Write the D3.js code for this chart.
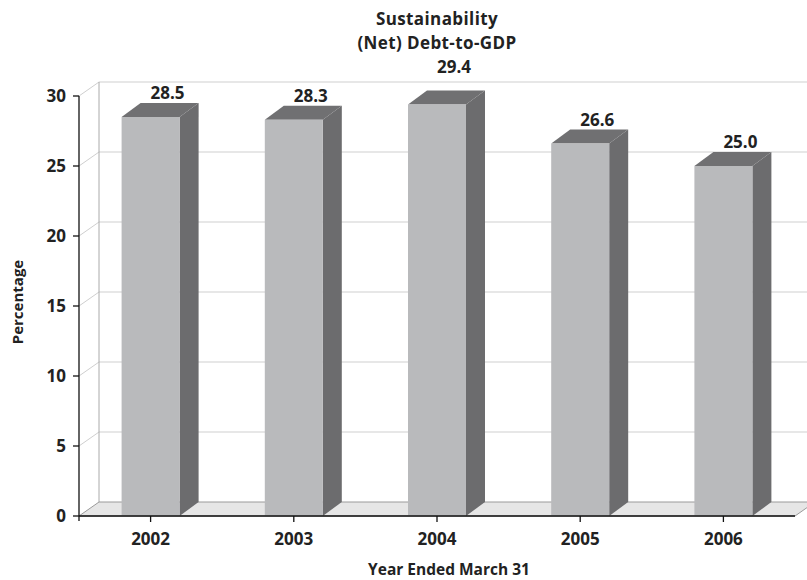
<!DOCTYPE html>
<html>
<head>
<meta charset="utf-8">
<script src="https://cdn.jsdelivr.net/npm/d3@7/dist/d3.min.js"></script>
<style>
  html, body { margin: 0; padding: 0; background: #ffffff; }
  svg text { font-family: "Open Sans", "DejaVu Sans", sans-serif; font-weight: 700; fill: #222222; }
</style>
</head>
<body>
<svg id="chart" width="807" height="580"></svg>
<script>
// Net debt as a share of GDP, fiscal years ended March 31
const years = ["2002", "2003", "2004", "2005", "2006"];
const debtToGdp = [28.5, 28.3, 29.4, 26.6, 25.0];
const yTicks = [0, 5, 10, 15, 20, 25, 30];
const titleLines = ["Sustainability", "(Net) Debt-to-GDP"];
const xTitle = "Year Ended March 31";
const yTitle = "Percentage";

const svg = d3.select("#chart");

// front plane of the 3-D box, plus the depth offset of the back wall
const front = { left: 79, right: 795, top: 96, bottom: 516 };
const wallDx = 20, wallDy = -14;
const barDx = 19, barDy = -14;

const x = d3.scaleBand()
  .domain(years)
  .range([front.left, front.right])
  .paddingInner(0.595)
  .paddingOuter(0.2975);

const y = d3.scaleLinear()
  .domain([0, 30])
  .range([front.bottom, front.top]);

const gridColor = "#cfcfcf";

// back wall gridlines and the left wall's receding lines
const grid = svg.append("g");
yTicks.filter(t => t > 0).forEach(t => {
  grid.append("line")
    .attr("x1", front.left + wallDx).attr("x2", front.right + wallDx + 20)
    .attr("y1", y(t) + wallDy).attr("y2", y(t) + wallDy)
    .attr("stroke", gridColor).attr("stroke-width", 1);
  grid.append("line")
    .attr("x1", front.left).attr("y1", y(t))
    .attr("x2", front.left + wallDx).attr("y2", y(t) + wallDy)
    .attr("stroke", gridColor).attr("stroke-width", 1);
});
// corner where the back wall meets the left wall
grid.append("line")
  .attr("x1", front.left + wallDx).attr("x2", front.left + wallDx)
  .attr("y1", y(30) + wallDy).attr("y2", y(0) + wallDy)
  .attr("stroke", "#aaaaaa").attr("stroke-width", 1);

// floor
const floorPts = [
  [front.left, y(0)],
  [front.left + wallDx, y(0) + wallDy],
  [front.right + wallDx, y(0) + wallDy],
  [front.right, y(0)]
];
svg.append("path")
  .attr("d", d3.line()(floorPts) + "Z")
  .attr("fill", "#e6e6e6")
  .attr("stroke", "#9a9a9a")
  .attr("stroke-width", 1);

// bars: side, top, then front face
const bw = x.bandwidth();
const bars = svg.append("g").selectAll("g")
  .data(years.map((yr, i) => ({ yr, v: debtToGdp[i] })))
  .join("g");

bars.append("path")
  .attr("d", d => {
    const x1 = x(d.yr) + bw, yt = y(d.v), yb = y(0);
    return d3.line()([[x1, yt], [x1 + barDx, yt + barDy], [x1 + barDx, yb + barDy], [x1, yb]]) + "Z";
  })
  .attr("fill", "#6c6c6e");

bars.append("path")
  .attr("d", d => {
    const x0 = x(d.yr), yt = y(d.v);
    return d3.line()([[x0, yt], [x0 + barDx, yt + barDy], [x0 + bw + barDx, yt + barDy], [x0 + bw, yt]]) + "Z";
  })
  .attr("fill", "#707072");

bars.append("rect")
  .attr("x", d => x(d.yr))
  .attr("y", d => y(d.v))
  .attr("width", bw)
  .attr("height", d => y(0) - y(d.v))
  .attr("fill", "#b9babc");

// value labels above each bar; a label that would cross the top edge
// of the back wall is lifted clear above it
const wallTop = y(30) + wallDy;
const labelSize = 17, labelCap = 12;
bars.append("text")
  .attr("x", d => x(d.yr) + bw / 2 + 17)
  .attr("y", d => {
    const base = y(d.v) + barDy - 4;
    return (base - labelCap < wallTop + 2) ? wallTop - 9 : base;
  })
  .attr("text-anchor", "middle")
  .attr("font-size", labelSize)
  .text(d => d.v.toFixed(1));

// y axis
const yAxis = svg.append("g");
yAxis.append("line")
  .attr("x1", front.left).attr("x2", front.left)
  .attr("y1", y(30)).attr("y2", y(0) + 5)
  .attr("stroke", "#111").attr("stroke-width", 1.3);
yTicks.forEach(t => {
  yAxis.append("line")
    .attr("x1", front.left - 6).attr("x2", front.left)
    .attr("y1", y(t)).attr("y2", y(t))
    .attr("stroke", "#111").attr("stroke-width", 1.3);
  yAxis.append("text")
    .attr("x", front.left - 13)
    .attr("y", y(t))
    .attr("dy", "0.36em")
    .attr("text-anchor", "end")
    .attr("font-size", 17)
    .text(t);
});

// x axis
const xAxis = svg.append("g");
xAxis.append("line")
  .attr("x1", front.left).attr("x2", front.right)
  .attr("y1", y(0)).attr("y2", y(0))
  .attr("stroke", "#111").attr("stroke-width", 1.3);
years.forEach(yr => {
  const cx = x(yr) + bw / 2;
  xAxis.append("line")
    .attr("x1", cx).attr("x2", cx)
    .attr("y1", y(0)).attr("y2", y(0) + 6)
    .attr("stroke", "#111").attr("stroke-width", 1.3);
  xAxis.append("text")
    .attr("x", cx)
    .attr("y", 545)
    .attr("text-anchor", "middle")
    .attr("font-size", 17)
    .text(yr);
});

// two-line title
titleLines.forEach((line, i) => {
  svg.append("text")
    .attr("x", 437)
    .attr("y", 25 + i * 24)
    .attr("text-anchor", "middle")
    .attr("font-size", 17)
    .attr("letter-spacing", 0.4)
    .text(line);
});

svg.append("text")
  .attr("x", 449).attr("y", 575)
  .attr("text-anchor", "middle")
  .attr("font-size", 15.5)
  .text(xTitle);

svg.append("text")
  .attr("transform", "translate(23,302) rotate(-90)")
  .attr("text-anchor", "middle")
  .attr("font-size", 15)
  .text(yTitle);
</script>
</body>
</html>
